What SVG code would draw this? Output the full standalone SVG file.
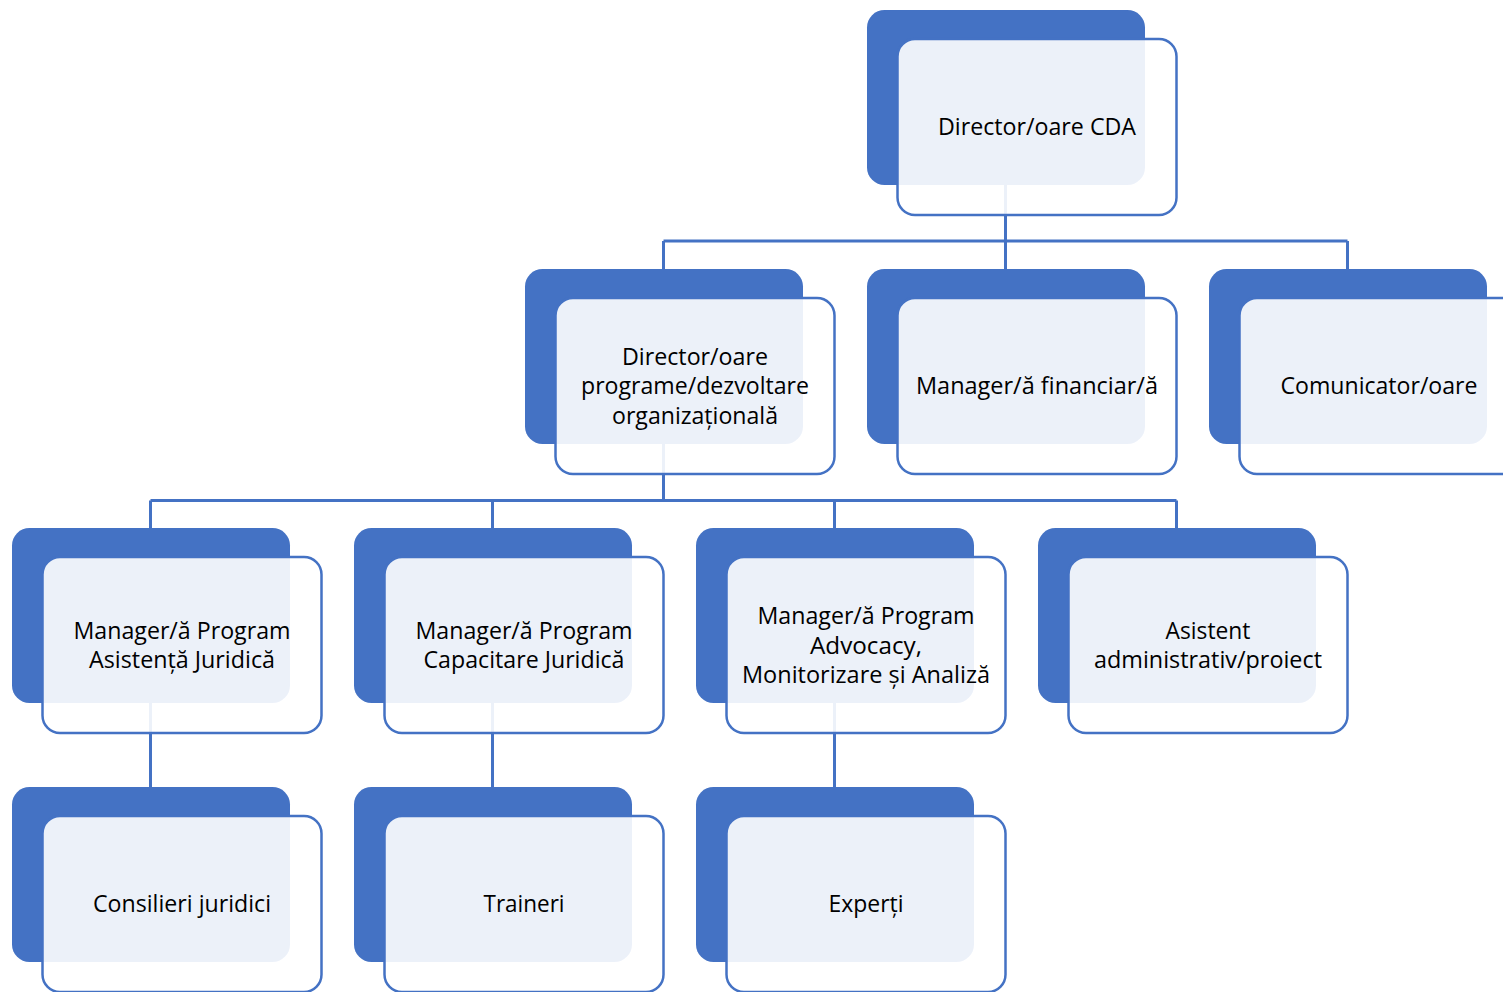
<svg xmlns="http://www.w3.org/2000/svg" width="1503" height="992" viewBox="0 0 1503 992">
<style>
.back{fill:#4472C4;}
.front{fill:#FFFFFF;fill-opacity:0.9;stroke:#4472C4;stroke-width:2.5;}
.lbl{font-family:"Open Sans","Liberation Sans",sans-serif;font-size:24px;fill:#000000;text-anchor:middle;}
.conn{fill:none;stroke:#4472C4;stroke-width:3;}
</style>
<rect width="1503" height="992" fill="#FFFFFF"/>
<g id="connectors">
<path class="conn" d="M1005.5,185 V241 M663.5,241 H1347.5 M663.5,241 V269 M1005.5,241 V269 M1347.5,241 V269"/>
<path class="conn" d="M663.5,444 V500.5 M150.5,500.5 H1176.5 M150.5,500.5 V528 M492.5,500.5 V528 M834.5,500.5 V528 M1176.5,500.5 V528"/>
<path class="conn" d="M150.5,703 V787 M492.5,703 V787 M834.5,703 V787"/>
</g>
<g id="n-director">
<rect class="back" x="867" y="10" width="278" height="175" rx="17.5"/>
<rect class="front" x="897.5" y="39" width="279" height="176" rx="17.5"/>
<text class="lbl" x="1037" y="135" textLength="198" lengthAdjust="spacingAndGlyphs">Director/oare CDA</text>
</g>
<g id="n-programe">
<rect class="back" x="525" y="269" width="278" height="175" rx="17.5"/>
<rect class="front" x="555.5" y="298" width="279" height="176" rx="17.5"/>
<text class="lbl" x="695" y="364.5" textLength="146" lengthAdjust="spacingAndGlyphs">Director/oare</text>
<text class="lbl" x="695" y="394" textLength="228" lengthAdjust="spacingAndGlyphs">programe/dezvoltare</text>
<text class="lbl" x="695" y="423.5" textLength="166" lengthAdjust="spacingAndGlyphs">organizațională</text>
</g>
<g id="n-financiar">
<rect class="back" x="867" y="269" width="278" height="175" rx="17.5"/>
<rect class="front" x="897.5" y="298" width="279" height="176" rx="17.5"/>
<text class="lbl" x="1037" y="394" textLength="242" lengthAdjust="spacingAndGlyphs">Manager/ă financiar/ă</text>
</g>
<g id="n-comunicator">
<rect class="back" x="1209" y="269" width="278" height="175" rx="17.5"/>
<rect class="front" x="1239.5" y="298" width="279" height="176" rx="17.5"/>
<text class="lbl" x="1379" y="394" textLength="197" lengthAdjust="spacingAndGlyphs">Comunicator/oare</text>
</g>
<g id="n-asistenta">
<rect class="back" x="12" y="528" width="278" height="175" rx="17.5"/>
<rect class="front" x="42.5" y="557" width="279" height="176" rx="17.5"/>
<text class="lbl" x="182" y="638.5" textLength="217" lengthAdjust="spacingAndGlyphs">Manager/ă Program</text>
<text class="lbl" x="182" y="668" textLength="186" lengthAdjust="spacingAndGlyphs">Asistență Juridică</text>
</g>
<g id="n-capacitare">
<rect class="back" x="354" y="528" width="278" height="175" rx="17.5"/>
<rect class="front" x="384.5" y="557" width="279" height="176" rx="17.5"/>
<text class="lbl" x="524" y="638.5" textLength="217" lengthAdjust="spacingAndGlyphs">Manager/ă Program</text>
<text class="lbl" x="524" y="668" textLength="201" lengthAdjust="spacingAndGlyphs">Capacitare Juridică</text>
</g>
<g id="n-advocacy">
<rect class="back" x="696" y="528" width="278" height="175" rx="17.5"/>
<rect class="front" x="726.5" y="557" width="279" height="176" rx="17.5"/>
<text class="lbl" x="866" y="624" textLength="217" lengthAdjust="spacingAndGlyphs">Manager/ă Program</text>
<text class="lbl" x="866" y="653.5" textLength="112" lengthAdjust="spacingAndGlyphs">Advocacy,</text>
<text class="lbl" x="866" y="683" textLength="248" lengthAdjust="spacingAndGlyphs">Monitorizare și Analiză</text>
</g>
<g id="n-admin">
<rect class="back" x="1038" y="528" width="278" height="175" rx="17.5"/>
<rect class="front" x="1068.5" y="557" width="279" height="176" rx="17.5"/>
<text class="lbl" x="1208" y="638.5" textLength="85" lengthAdjust="spacingAndGlyphs">Asistent</text>
<text class="lbl" x="1208" y="668" textLength="228" lengthAdjust="spacingAndGlyphs">administrativ/proiect</text>
</g>
<g id="n-consilieri">
<rect class="back" x="12" y="787" width="278" height="175" rx="17.5"/>
<rect class="front" x="42.5" y="816" width="279" height="176" rx="17.5"/>
<text class="lbl" x="182" y="912" textLength="178" lengthAdjust="spacingAndGlyphs">Consilieri juridici</text>
</g>
<g id="n-traineri">
<rect class="back" x="354" y="787" width="278" height="175" rx="17.5"/>
<rect class="front" x="384.5" y="816" width="279" height="176" rx="17.5"/>
<text class="lbl" x="524" y="912" textLength="81" lengthAdjust="spacingAndGlyphs">Traineri</text>
</g>
<g id="n-experti">
<rect class="back" x="696" y="787" width="278" height="175" rx="17.5"/>
<rect class="front" x="726.5" y="816" width="279" height="176" rx="17.5"/>
<text class="lbl" x="866" y="912" textLength="75" lengthAdjust="spacingAndGlyphs">Experți</text>
</g>
</svg>
